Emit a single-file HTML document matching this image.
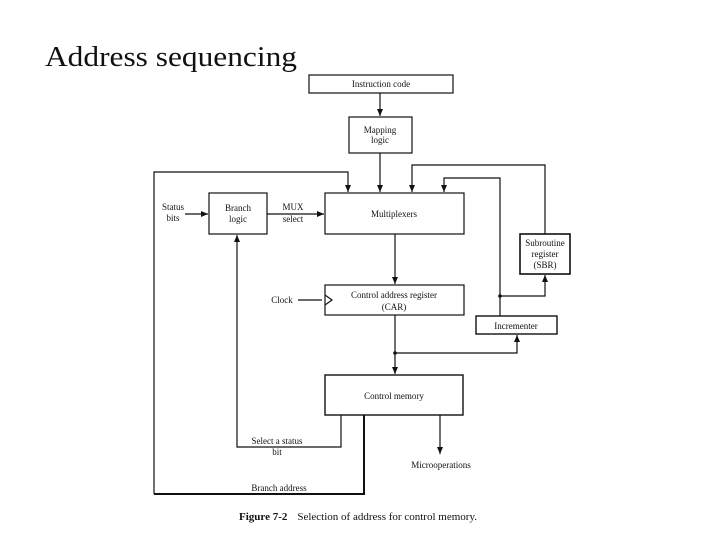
<!DOCTYPE html>
<html><head><meta charset="utf-8"><style>
html,body{margin:0;padding:0;background:#fff;}
svg{display:block;}
text{font-family:"Liberation Serif",serif;fill:#111;}
</style></head><body>
<svg width="720" height="540" viewBox="0 0 720 540" xmlns="http://www.w3.org/2000/svg">
<defs>
<marker id="a" markerWidth="8" markerHeight="8" refX="7" refY="4" orient="auto" markerUnits="userSpaceOnUse">
<path d="M0,1 L7,4 L0,7 z" fill="#111"/></marker>
</defs>
<text x="45" y="66" font-size="29" textLength="252" lengthAdjust="spacingAndGlyphs">Address sequencing</text>
<g fill="none" stroke="#111" stroke-width="1.2">
<rect x="309" y="75" width="144" height="18"/>
<rect x="349" y="117" width="63" height="36"/>
<rect x="325" y="193" width="139" height="41"/>
<rect x="209" y="193" width="58" height="41"/>
<rect x="520" y="234" width="50" height="40" stroke-width="1.6"/>
<rect x="476" y="316" width="81" height="18" stroke-width="1.4"/>
<rect x="325" y="285" width="139" height="30"/>
<rect x="325" y="375" width="138" height="40" stroke-width="1.4"/>
<path d="M380,93 V116" marker-end="url(#a)"/>
<path d="M380,153 V192" marker-end="url(#a)"/>
<path d="M154,494 V172 H348 V192" marker-end="url(#a)"/>
<path d="M545,234 V165 H412 V192" marker-end="url(#a)"/>
<path d="M500,316 V178 H444 V192" marker-end="url(#a)"/>
<path d="M500,296 H545 V275" marker-end="url(#a)"/>
<path d="M185,214 H208" marker-end="url(#a)"/>
<path d="M267,214 H324" marker-end="url(#a)"/>
<path d="M395,234 V284" marker-end="url(#a)"/>
<path d="M298,300 H322"/>
<path d="M325,295 L332,300 L325,305"/>
<path d="M395,315 V374" marker-end="url(#a)"/>
<path d="M395,353 H517 V335" marker-end="url(#a)"/>
<path d="M341,415 V447 H237 V235" marker-end="url(#a)"/>
<path d="M364,415 V494 H154" stroke-width="2"/>
<path d="M440,415 V454" marker-end="url(#a)"/>
</g>
<circle cx="500" cy="296" r="1.8" fill="#111"/>
<circle cx="395" cy="353" r="1.8" fill="#111"/>
<g font-size="9" text-anchor="middle">
<text x="381" y="87">Instruction code</text>
<text x="380" y="133">Mapping</text>
<text x="380" y="143">logic</text>
<text x="394" y="217">Multiplexers</text>
<text x="238" y="211">Branch</text>
<text x="238" y="222">logic</text>
<text x="173" y="210">Status</text>
<text x="173" y="221">bits</text>
<text x="293" y="210">MUX</text>
<text x="293" y="222">select</text>
<text x="545" y="246">Subroutine</text>
<text x="545" y="257">register</text>
<text x="545" y="268">(SBR)</text>
<text x="516" y="329">Incrementer</text>
<text x="394" y="298">Control address register</text>
<text x="394" y="310">(CAR)</text>
<text x="282" y="303">Clock</text>
<text x="394" y="399">Control memory</text>
<text x="277" y="444">Select a status</text>
<text x="277" y="455">bit</text>
<text x="441" y="468">Microoperations</text>
<text x="279" y="491">Branch address</text>
</g>
<text x="239" y="520" font-size="10" textLength="238" lengthAdjust="spacingAndGlyphs"><tspan font-weight="bold">Figure 7-2</tspan><tspan dx="9">Selection of address for control memory.</tspan></text>
</svg>
</body></html>
